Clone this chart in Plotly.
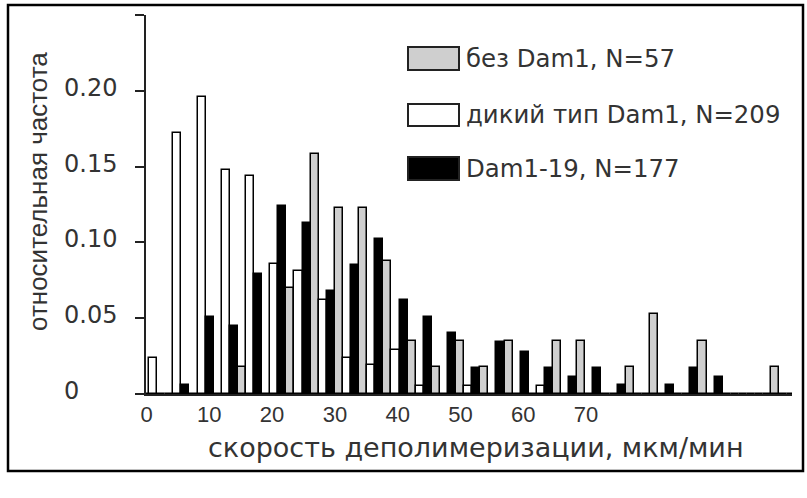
import plotly.graph_objects as go

# Histogram bins of depolymerisation rate (µm/min)
bin_width = 3.86
bin_centers = [round(1.05 + bin_width * k, 3) for k in range(27)]

# Relative frequencies per bin
no_dam1 = [0, 0, 0, 0, 0.018, 0, 0.070, 0.158, 0.123, 0.123, 0.088, 0.035, 0.018, 0.035,
           0.018, 0.035, 0, 0.035, 0.035, 0, 0.018, 0.053, 0, 0.035, 0, 0, 0.018]
wild_type = [0.024, 0.172, 0.196, 0.148, 0.144, 0.086, 0.081, 0.062, 0.024, 0.019, 0.029,
             0.005, 0, 0.005, 0, 0, 0.005, 0, 0, 0, 0, 0, 0, 0, 0, 0, 0]
dam1_19 = [0, 0.006, 0.051, 0.045, 0.079, 0.124, 0.113, 0.068, 0.085, 0.102, 0.062, 0.051,
           0.040, 0.017, 0.034, 0.028, 0.017, 0.011, 0.017, 0.006, 0, 0.006, 0.017, 0.011,
           0, 0, 0]

series_names = ["без Dam1, N=57", "дикий тип Dam1, N=209", "Dam1-19, N=177"]
series_fills = ["#cfcfcf", "#ffffff", "#000000"]

x_tickvals = [0, 10, 20, 30, 40, 50, 60, 70]
y_tickvals = [0, 0.05, 0.10, 0.15, 0.20, 0.25]
y_ticktext = ["0", "0.05", "0.10", "0.15", "0.20", ""]

x_title = "скорость деполимеризации, мкм/мин"
y_title = "относительная частота"

# Canvas and plot-area geometry (pixels)
W, H = 807, 498
ML, MR, MT, MB = 146, 15, 15, 104
PW, PH = W - ML - MR, H - MT - MB


def xp(px):
    return (px - ML) / PW


def yp(py):
    return (H - MB - py) / PH


SANS = "Liberation Sans, Arial, sans-serif"
WIDE = "DejaVu Sans, Verdana, sans-serif"
TXT = "#333333"
AXIS = "#222222"

fig = go.Figure()
for name, vals, fill in zip(series_names, [no_dam1, wild_type, dam1_19], series_fills):
    fig.add_trace(go.Bar(
        x=bin_centers, y=vals, name=name,
        marker=dict(color=fill, line=dict(color="#000000", width=1.5)),
    ))

shapes = []
annotations = []

# Outer frame
shapes.append(dict(type="rect", xref="paper", yref="paper",
                   x0=xp(8), x1=xp(803), y0=yp(5), y1=yp(471),
                   line=dict(color="#000000", width=2.5), fillcolor="rgba(0,0,0,0)",
                   layer="above"))

# Legend: swatch rectangles with labels
legend_rows = [(47, 70), (104, 126), (157, 180)]
for (top, bot), name, fill in zip(legend_rows, series_names, series_fills):
    shapes.append(dict(type="rect", xref="paper", yref="paper",
                       x0=xp(408), x1=xp(459), y0=yp(bot), y1=yp(top),
                       line=dict(color=AXIS, width=2), fillcolor=fill))
    annotations.append(dict(xref="paper", yref="paper", x=xp(464), y=yp((top + bot) / 2),
                            xanchor="left", yanchor="middle", showarrow=False,
                            text=name, font=dict(family=WIDE, size=24.4, color=TXT)))

# Left-aligned y tick labels
for val, txt in zip(y_tickvals, y_ticktext):
    if txt:
        annotations.append(dict(xref="paper", yref="y", x=xp(62), y=val, yshift=3,
                                xanchor="left", yanchor="middle", showarrow=False,
                                text=txt, font=dict(family=WIDE, size=24, color=TXT)))

# Axis titles
annotations.append(dict(xref="paper", yref="paper", x=xp(476), y=yp(447),
                        xanchor="center", yanchor="middle", showarrow=False,
                        text=x_title, font=dict(family=WIDE, size=27, color=TXT)))
annotations.append(dict(xref="paper", yref="paper", x=xp(38), y=yp(192),
                        xanchor="center", yanchor="middle", showarrow=False, textangle=-90,
                        text=y_title, font=dict(family=SANS, size=26, color=TXT)))

fig.update_layout(
    width=W, height=H,
    margin=dict(l=ML, r=MR, t=MT, b=MB, pad=0),
    paper_bgcolor="white", plot_bgcolor="white",
    barmode="group", bargap=0, bargroupgap=0,
    showlegend=False,
    shapes=shapes, annotations=annotations,
    font=dict(family=SANS, size=22, color=TXT),
)

fig.update_xaxes(
    range=[-0.08, 102.8], showgrid=False, zeroline=False,
    showline=True, linecolor=AXIS, linewidth=2,
    tickmode="array", tickvals=x_tickvals, ticks="",
    ticklabelstandoff=0,
    tickfont=dict(family=SANS, size=22, color=TXT),
)
fig.update_yaxes(
    range=[0, 0.25], showgrid=False, zeroline=False,
    showline=True, linecolor=AXIS, linewidth=2,
    tickmode="array", tickvals=y_tickvals, showticklabels=False,
    ticks="outside", ticklen=9, tickwidth=2, tickcolor=AXIS,
)

fig.write_html("out.html")
